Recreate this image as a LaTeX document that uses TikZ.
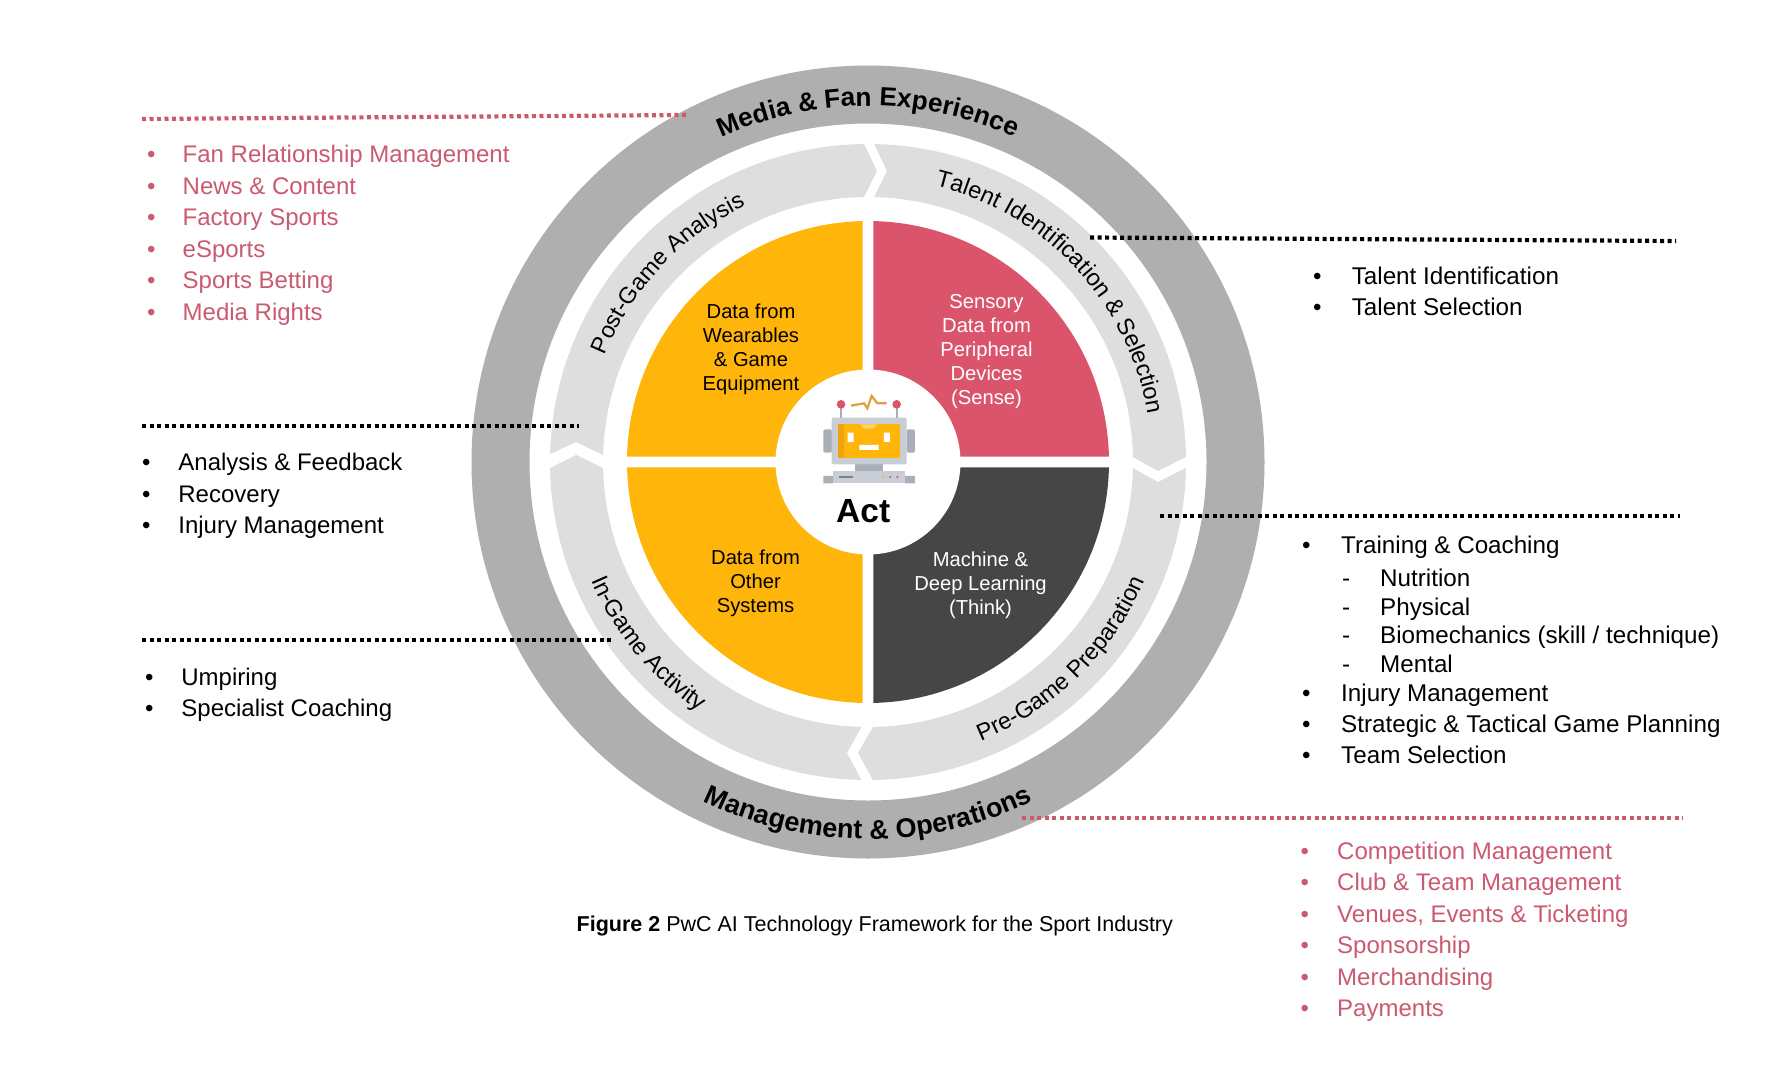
\documentclass[tikz,border=0pt]{standalone}
\usepackage{fontspec}
\setmainfont{Liberation Sans}[Ligatures=NoCommon]
\usetikzlibrary{decorations.text}
\definecolor{ringdark}{HTML}{AFAFAF}
\definecolor{ringlight}{HTML}{DEDEDE}
\definecolor{qorange}{HTML}{FFB50A}
\definecolor{qpink}{HTML}{DA546C}
\definecolor{qdark}{HTML}{464646}
\definecolor{pinktext}{HTML}{CB5A70}
\definecolor{robgrey}{HTML}{C9CED6}
\definecolor{robdark}{HTML}{A9AEB7}
\newcommand{\fs}[1]{\fontsize{#1}{#1}\selectfont}
\newcommand{\listsize}{24}
\tikzset{
  listtext/.style={anchor=base west,inner sep=0pt,font=\fontsize{\listsize}{\listsize}\selectfont},
  quadtext/.style={align=center,inner sep=0pt,font=\fontsize{20.2}{24}\selectfont},
  leader/.style={line width=4.2pt,dash pattern=on 4pt off 3.5pt},
  ringtext/.style={decorate,decoration={text along path,text align=center,text={#1}}},
}
% name, bullet x, text x, baseline y (image), text
\newcommand{\litem}[6][•]{%
  \node[listtext] (b#2) at (#3,-#5) {#1};
  \node[listtext] (t#2) at (#4,-#5) {#6};}
\begin{document}
\begin{tikzpicture}[x=1pt,y=1pt]
\useasboundingbox (0,-1076) rectangle (1790,0);
\fill[white] (0,-1076) rectangle (1790,0);
\begin{scope}[shift={(868,-462)}]
  % outer ring
  \fill[ringdark,even odd rule] (0,0) circle (396.5) (0,0) circle (338.5);
  % chevron ring segments
  \fill[ringlight] (178.56:318) arc (178.56:90.7:318) -- (9,291) -- (90.86:265) arc (90.86:178.5:265) -- (-292,20) -- cycle;
  \fill[ringlight] (88.9:318) arc (88.9:0.9:318) -- (290,-9) -- (1.08:265) arc (1.08:88.7:265) -- (19,291) -- cycle;
  \fill[ringlight] (-1.08:318) arc (-1.08:-89.1:318) -- (-10,-291) -- (-88.9:265) arc (-88.9:-1.3:265) -- (290,-20) -- cycle;
  \fill[ringlight] (268.83:318) arc (268.83:181.08:318) -- (-292,7) -- (181.3:265) arc (181.3:268.6:265) -- (-21,-291) -- cycle;
  % quadrants
  \fill[qorange] (-5.5,5.5) -- (91.3:241) arc (91.3:178.7:241) -- cycle;
  \fill[qpink] (5.5,5.5) -- (88.7:241) arc (88.7:1.3:241) -- cycle;
  \fill[qorange] (-5.5,-5.5) -- (268.7:241) arc (268.7:181.3:241) -- cycle;
  \fill[qdark] (5.5,-5.5) -- (-88.7:241) arc (-88.7:-1.3:241) -- cycle;
  \node[circle,fill=white,minimum size=185pt,inner sep=0pt] (hub) at (0,0) {};
  % ring labels
  \path[ringtext={|\fs{26.2}\bfseries|Media {\&} Fan Experience}] (150:356) arc (150:30:356);
  \path[ringtext={|\fs{27}\bfseries|Management {\&} Operations}] (210:377) arc (210:330:377);
  \path[ringtext={|\fs{23.6}|Talent Identification {\&} Selection}] (95:284) arc (95:-9:284);
  \path[ringtext={|\fs{23.2}|Post-Game Analysis}] (185:284) arc (185:88.4:284);
  \path[ringtext={|\fs{23.5}|In-Game Activity}] (175:301) arc (175:264:301);
  \path[ringtext={|\fs{23.4}|Pre-Game Preparation}] (-90.6:301) arc (-90.6:-0.6:301);
\end{scope}
% quadrant labels
\node[quadtext] (qa) at (751,-349) {Data from\\Wearables\\\& Game\\Equipment};
\node[quadtext,text=white] (qb) at (986.5,-352) {Sensory\\Data from\\Peripheral\\Devices\\(Sense)};
\node[quadtext] (qc) at (755.5,-583.5) {Data from\\Other\\Systems};
\node[quadtext,text=white] (qd) at (980.5,-585) {Machine \&\\Deep Learning\\(Think)};
\node[anchor=base west,inner sep=0pt,font=\fs{33.5}\bfseries] (act) at (836,-522.7) {Act};
% robot
\begin{scope}[shift={(760,-340)},x=0.3333pt,y=-0.3333pt]
  \draw[robdark,line width=2pt] (243,193) -- (243,235) (410,193) -- (410,235);
  \fill[qpink] (243,193) circle (13) (410,193) circle (13);
  \draw[color={rgb,255:red,224;green,160;blue,58},line width=2.2pt] (273,197) -- (312,190) -- (322,205) -- (335,168) -- (352,190) -- (380,190);
  \fill[robdark,rounded corners=1.5pt] (190,268) rectangle (216,338);
  \fill[robdark,rounded corners=1.5pt] (440,268) rectangle (465,338);
  \fill[robdark] (285,373) rectangle (368,394);
  \fill[robgrey,rounded corners=2pt] (215,233) rectangle (440,373);
  \fill[qorange] (235,253) rectangle (420,353);
  \fill[color={rgb,255:red,240;green,163;blue,10}] (235,253) rectangle (252,353);
  \fill[color={rgb,255:red,251;green,211;blue,106}] (300,253) -- (352,253) -- (340,266) -- (312,266) -- cycle;
  \fill[white] (263,278) rectangle (281,306) (372,278) rectangle (390,306) (298,315) rectangle (356,330);
  \fill[robdark] (190,408) rectangle (219,430) (435,408) rectangle (465,430);
  \fill[robgrey] (219,394) rectangle (435,430);
  \fill[color={rgb,255:red,125;green,130;blue,138}] (238,408) rectangle (278,415);
  \fill[color={rgb,255:red,242;green,182;blue,50}] (369,411) circle (3.5);
  \fill[qpink] (391,411) circle (3.5) (412,411) circle (3.5);
\end{scope}
% leader lines
\coordinate (l1a) at (142,-119); \coordinate (l1b) at (687,-115);
\coordinate (l2a) at (142,-426.3); \coordinate (l2b) at (579,-426.3);
\coordinate (l3a) at (142,-640); \coordinate (l3b) at (613,-640);
\coordinate (r1a) at (1090,-237.5); \coordinate (r1b) at (1676,-241);
\coordinate (r2a) at (1160,-515.7); \coordinate (r2b) at (1680,-515.7);
\coordinate (r3a) at (1022,-818.3); \coordinate (r3b) at (1683,-818.3);
\draw[leader,pinktext] (l1a) -- (l1b);
\draw[leader] (l2a) -- (l2b);
\draw[leader] (l3a) -- (l3b);
\draw[leader] (r1a) -- (r1b);
\draw[leader] (r2a) -- (r2b);
\draw[leader,pinktext] (r3a) -- (r3b);
% lists
\begin{scope}[every node/.append style={text=pinktext}]
  \litem{a1}{147}{182.5}{162.7}{Fan Relationship Management}
  \litem{a2}{147}{182.5}{194.3}{News \& Content}
  \litem{a3}{147}{182.5}{225.3}{Factory Sports}
  \litem{a4}{147}{182.5}{257.7}{eSports}
  \litem{a5}{147}{182.5}{288.7}{Sports Betting}
  \litem{a6}{147}{182.5}{320.3}{Media Rights}
  \litem{f1}{1300.5}{1337}{859}{Competition Management}
  \litem{f2}{1300.5}{1337}{890}{Club \& Team Management}
  \litem{f3}{1300.5}{1337}{922.3}{Venues, Events \& Ticketing}
  \litem{f4}{1300.5}{1337}{953}{Sponsorship}
  \litem{f5}{1300.5}{1337}{985}{Merchandising}
  \litem{f6}{1300.5}{1337}{1016.2}{Payments}
\end{scope}
\litem{b1}{142}{178.2}{470}{Analysis \& Feedback}
\litem{b2}{142}{178.2}{502}{Recovery}
\litem{b3}{142}{178.2}{533.2}{Injury Management}
\litem{c1}{145}{181.2}{685}{Umpiring}
\litem{c2}{145}{181.2}{716.2}{Specialist Coaching}
\renewcommand{\listsize}{24.2}
\litem{d1}{1313}{1351.6}{284}{Talent Identification}
\litem{d2}{1313}{1351.6}{315}{Talent Selection}
\litem{e1}{1302}{1341}{553.8}{Training \& Coaching}
\litem[-]{e2}{1342}{1380}{586}{Nutrition}
\litem[-]{e3}{1342}{1380}{615}{Physical}
\litem[-]{e4}{1342}{1380}{643.3}{Biomechanics (skill / technique)}
\litem[-]{e5}{1342}{1380}{672.2}{Mental}
\litem{e6}{1302}{1341}{701}{Injury Management}
\litem{e7}{1302}{1341}{732.8}{Strategic \& Tactical Game Planning}
\litem{e8}{1302}{1341}{763.3}{Team Selection}
% caption
\node[anchor=base west,inner sep=0pt,font=\fs{21.5}] (cap) at (576.5,-931.2) {\textbf{Figure 2} PwC AI Technology Framework for the Sport Industry};
\end{tikzpicture}
\end{document}
